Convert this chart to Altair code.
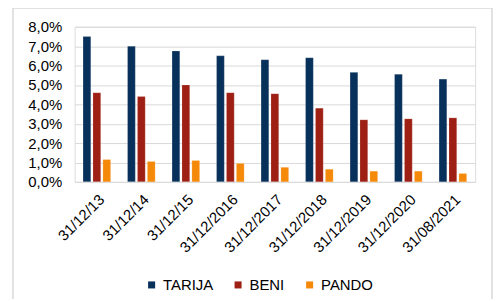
import altair as alt
import pandas as pd

dates = ["31/12/13", "31/12/14", "31/12/15", "31/12/2016", "31/12/2017",
         "31/12/2018", "31/12/2019", "31/12/2020", "31/08/2021"]
series = ["TARIJA", "BENI", "PANDO"]
tarija = [7.5, 7.0, 6.75, 6.5, 6.3, 6.4, 5.65, 5.55, 5.3]
beni = [4.6, 4.4, 5.0, 4.6, 4.55, 3.8, 3.2, 3.25, 3.3]
pando = [1.15, 1.05, 1.1, 0.95, 0.75, 0.65, 0.55, 0.55, 0.43]
colors = ["#07305b", "#9e2014", "#f5890a"]
y_ticks = [0, 1, 2, 3, 4, 5, 6, 7, 8]

rows = []
for name, vals in zip(series, [tarija, beni, pando]):
    for d, v in zip(dates, vals):
        rows.append({"fecha": d, "serie": name, "valor": v})
df = pd.DataFrame(rows)

font = "Liberation Sans"

bars = alt.Chart(df).mark_bar(stroke="#ffffff", strokeOpacity=0.35, strokeWidth=0.5).encode(
    x=alt.X("fecha:N", sort=dates, title=None,
            scale=alt.Scale(paddingInner=0.38, paddingOuter=0.19),
            axis=alt.Axis(labelAngle=-45, labelFont=font, labelFontSize=15,
                          labelColor="#000000", ticks=False, domain=False,
                          labelPadding=10, grid=False)),
    xOffset=alt.XOffset("serie:N", sort=series, scale=alt.Scale(paddingInner=0.22)),
    y=alt.Y("valor:Q", title=None,
            scale=alt.Scale(domain=[0, 8], nice=False),
            axis=alt.Axis(values=y_ticks, labelFont=font, labelFontSize=15,
                          labelColor="#000000", ticks=False, domain=False,
                          labelPadding=13, gridColor="#d9d9d9", gridWidth=1,
                          labelExpr="replace(format(datum.value, '.1f'), '.', ',') + '%'")),
    color=alt.Color("serie:N", sort=series,
                    scale=alt.Scale(domain=series, range=colors),
                    legend=alt.Legend(title=None, orient="none", direction="horizontal",
                                      legendX=70, legendY=252, symbolType="square",
                                      symbolSize=50, symbolStrokeWidth=0,
                                      labelFont=font, labelFontSize=15,
                                      labelColor="#000000", columnPadding=17,
                                      labelOffset=4)),
)

frame = alt.Chart(pd.DataFrame({"a": [0]})).mark_rect(
    fill=None, stroke="#d9d9d9", strokeWidth=1.5, clip=False
).encode(
    x=alt.value(-62), x2=alt.value(420), y=alt.value(-19), y2=alt.value(300)
)

chart = alt.layer(frame, bars).properties(
    width=403, height=156,
    padding={"left": 67, "top": 18, "right": 18, "bottom": 117},
    autosize=alt.AutoSizeParams(type="none"),
).configure_view(stroke=None).configure(background="#ffffff")

chart.save("out.html", embed_options={"renderer": "svg", "actions": False})
